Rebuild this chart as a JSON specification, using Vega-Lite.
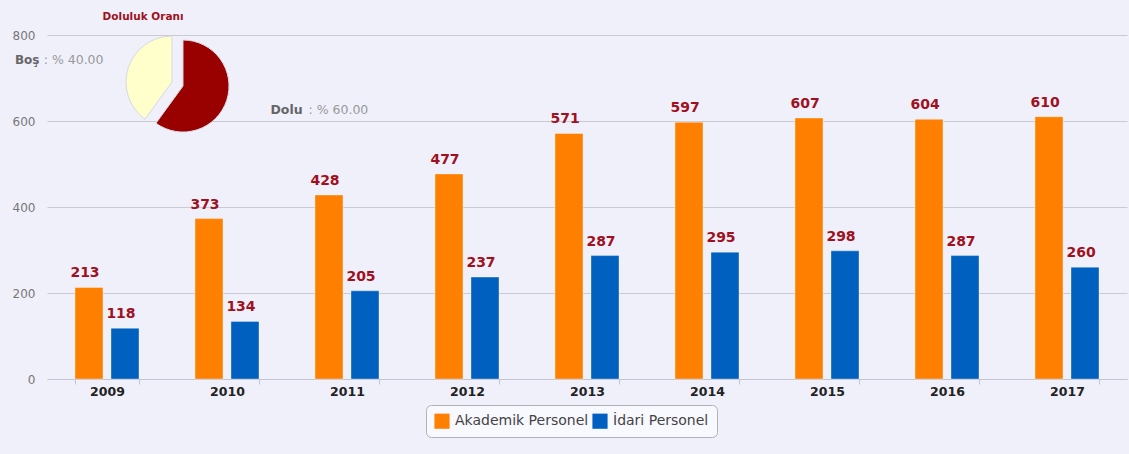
{
  "$schema": "https://vega.github.io/schema/vega-lite/v6.json",
  "width": 1080,
  "height": 344,
  "autosize": "none",
  "padding": {"left": 47, "top": 35, "right": 2, "bottom": 75},
  "background": "#f0f0fb",
  "config": {"view": {"stroke": null}, "font": "DejaVu Sans"},
  "title": {"text": "Doluluk Oranı", "anchor": "start", "align": "center", "dx": 131, "offset": 7, "fontSize": 10.5, "fontWeight": "bold", "color": "#a01020"},
  "datasets": {
    "personel": [
      {"yil": "2009", "tur": "Akademik Personel", "sayi": 213},
      {"yil": "2009", "tur": "İdari Personel", "sayi": 118},
      {"yil": "2010", "tur": "Akademik Personel", "sayi": 373},
      {"yil": "2010", "tur": "İdari Personel", "sayi": 134},
      {"yil": "2011", "tur": "Akademik Personel", "sayi": 428},
      {"yil": "2011", "tur": "İdari Personel", "sayi": 205},
      {"yil": "2012", "tur": "Akademik Personel", "sayi": 477},
      {"yil": "2012", "tur": "İdari Personel", "sayi": 237},
      {"yil": "2013", "tur": "Akademik Personel", "sayi": 571},
      {"yil": "2013", "tur": "İdari Personel", "sayi": 287},
      {"yil": "2014", "tur": "Akademik Personel", "sayi": 597},
      {"yil": "2014", "tur": "İdari Personel", "sayi": 295},
      {"yil": "2015", "tur": "Akademik Personel", "sayi": 607},
      {"yil": "2015", "tur": "İdari Personel", "sayi": 298},
      {"yil": "2016", "tur": "Akademik Personel", "sayi": 604},
      {"yil": "2016", "tur": "İdari Personel", "sayi": 287},
      {"yil": "2017", "tur": "Akademik Personel", "sayi": 610},
      {"yil": "2017", "tur": "İdari Personel", "sayi": 260}
    ],
    "doluluk": [
      {"k": "Dolu", "v": 60, "o": 1, "b": "Dolu", "n": ": % 60.00"},
      {"k": "Boş", "v": 40, "o": 2, "b": "Boş", "n": ": % 40.00"}
    ]
  },
  "layer": [
    {
      "data": {"name": "personel"},
      "mark": {"type": "bar", "stroke": "#ffffff", "strokeOpacity": 0.35, "strokeWidth": 1},
      "encoding": {
        "x": {
          "field": "yil", "type": "nominal",
          "scale": {"paddingInner": 0.4667, "paddingOuter": 0.2333},
          "axis": {"title": null, "labelAngle": 0, "labelFontWeight": "bold", "labelColor": "#222222", "labelFontSize": 12.5, "labelPadding": 1, "domainColor": "#c4c4d4", "tickColor": "#c4c4d4", "tickSize": 5, "tickBand": "extent"}
        },
        "xOffset": {"field": "tur", "type": "nominal", "sort": ["Akademik Personel", "İdari Personel"], "scale": {"paddingInner": 0.222, "paddingOuter": 0}},
        "y": {
          "field": "sayi", "type": "quantitative",
          "scale": {"domain": [0, 800]},
          "axis": {"title": null, "values": [0, 200, 400, 600, 800], "grid": true, "gridColor": "#cacad4", "domain": false, "ticks": false, "labelColor": "#777777", "labelFontSize": 12, "labelPadding": 12}
        },
        "color": {
          "field": "tur", "type": "nominal",
          "scale": {"domain": ["Akademik Personel", "İdari Personel"], "range": ["#ff8000", "#0060c0"]},
          "legend": {"title": null, "orient": "none", "legendX": 379, "legendY": 370, "direction": "horizontal", "strokeColor": "#b0b0b8", "cornerRadius": 5, "fillColor": "#f8f8ff", "padding": 8, "symbolType": "square", "symbolSize": 230, "symbolStrokeWidth": 0, "labelFontSize": 14, "labelColor": "#444444", "columnPadding": 3, "labelOffset": 5}
        }
      }
    },
    {
      "data": {"name": "personel"},
      "mark": {"type": "text", "fontWeight": "bold", "fontSize": 14, "color": "#a01020", "baseline": "alphabetic", "dy": -10, "dx": -4},
      "encoding": {
        "x": {"field": "yil", "type": "nominal"},
        "xOffset": {"field": "tur", "type": "nominal", "sort": ["Akademik Personel", "İdari Personel"]},
        "y": {"field": "sayi", "type": "quantitative"},
        "text": {"field": "sayi", "type": "quantitative"}
      }
    },
    {
      "data": {"name": "doluluk"},
      "mark": {"type": "arc", "outerRadius": 46, "xOffset": 76, "yOffset": 2, "stroke": "#d8d8e0", "strokeWidth": 1},
      "encoding": {
        "x": {"datum": "2009"},
        "y": {"datum": 686},
        "theta": {"field": "v", "type": "quantitative", "stack": true, "scale": {"domain": [0, 100]}},
        "order": {"field": "o"},
        "color": {"field": "k", "type": "nominal", "scale": {"domain": ["Dolu", "Boş"], "range": ["#990000", "#ffffcc"]}, "legend": null},
        "opacity": {"condition": {"test": "datum.k === 'Dolu'", "value": 1}, "value": 0}
      }
    },
    {
      "data": {"name": "doluluk"},
      "mark": {"type": "arc", "outerRadius": 46, "xOffset": 65, "yOffset": -2, "stroke": "#d8d8e0", "strokeWidth": 1},
      "encoding": {
        "x": {"datum": "2009"},
        "y": {"datum": 686},
        "theta": {"field": "v", "type": "quantitative", "stack": true},
        "order": {"field": "o"},
        "color": {"field": "k", "type": "nominal", "scale": {"domain": ["Dolu", "Boş"], "range": ["#990000", "#ffffcc"]}, "legend": null},
        "opacity": {"condition": {"test": "datum.k === 'Boş'", "value": 1}, "value": 0}
      }
    },
    {
      "data": {"name": "doluluk"},
      "mark": {"type": "text", "radius": 72, "xOffset": 65, "yOffset": -2, "align": "right", "baseline": "middle", "fontSize": 12.5, "color": "#999999"},
      "encoding": {
        "x": {"datum": "2009"},
        "y": {"datum": 686},
        "theta": {"field": "v", "type": "quantitative", "stack": true},
        "order": {"field": "o"},
        "text": {"condition": {"test": "datum.k === 'Boş'", "field": "n"}, "value": ""}
      }
    },
    {
      "data": {"name": "doluluk"},
      "mark": {"type": "text", "radius": 72, "xOffset": 65, "yOffset": -2, "dx": -64, "align": "right", "baseline": "middle", "fontSize": 12, "fontWeight": "bold", "color": "#666666"},
      "encoding": {
        "x": {"datum": "2009"},
        "y": {"datum": 686},
        "theta": {"field": "v", "type": "quantitative", "stack": true},
        "order": {"field": "o"},
        "text": {"condition": {"test": "datum.k === 'Boş'", "field": "b"}, "value": ""}
      }
    },
    {
      "data": {"name": "doluluk"},
      "mark": {"type": "text", "radius": 92, "xOffset": 76, "yOffset": 2, "dy": -4, "align": "left", "baseline": "middle", "fontSize": 12.5, "fontWeight": "bold", "color": "#666666"},
      "encoding": {
        "x": {"datum": "2009"},
        "y": {"datum": 686},
        "theta": {"field": "v", "type": "quantitative", "stack": true},
        "order": {"field": "o"},
        "text": {"condition": {"test": "datum.k === 'Dolu'", "field": "b"}, "value": ""}
      }
    },
    {
      "data": {"name": "doluluk"},
      "mark": {"type": "text", "radius": 92, "xOffset": 76, "yOffset": 2, "dy": -4, "dx": 38, "align": "left", "baseline": "middle", "fontSize": 12.5, "color": "#999999"},
      "encoding": {
        "x": {"datum": "2009"},
        "y": {"datum": 686},
        "theta": {"field": "v", "type": "quantitative", "stack": true},
        "order": {"field": "o"},
        "text": {"condition": {"test": "datum.k === 'Dolu'", "field": "n"}, "value": ""}
      }
    }
  ],
  "resolve": {"scale": {"color": "independent"}}
}
